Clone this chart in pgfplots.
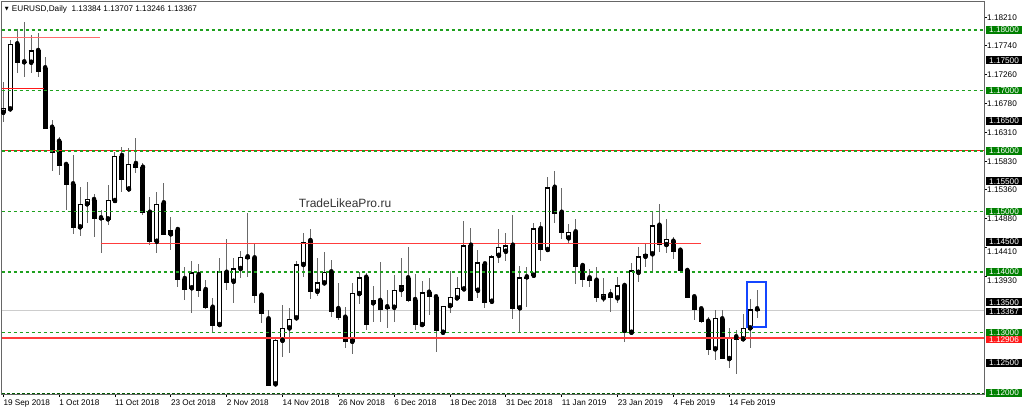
\documentclass[border=0pt]{standalone}
\usepackage{fontspec}
\setmainfont{Liberation Sans}
\newfontfamily\dejavu{DejaVu Sans}
\usepackage{pgfplots}
\usepackage{pgfplotstable}
\pgfplotsset{compat=1.18}
\definecolor{lvlgreen}{RGB}{0,128,0}
\definecolor{dashgreen}{RGB}{30,160,30}
\definecolor{darkdash}{RGB}{0,90,0}
\definecolor{lvlred}{RGB}{255,60,60}
\definecolor{boxred}{RGB}{255,25,25}
\definecolor{wickgray}{RGB}{105,105,105}
\definecolor{curgray}{RGB}{205,205,205}
\definecolor{selblue}{RGB}{20,70,255}
\newcommand{\tickfont}{\fontsize{8.2}{9}\selectfont}

% EURUSD daily candles, 19 Sep 2018 .. 20 Feb 2019 (index = bar number)
\pgfplotstableread{
i O H L C
0 1.16633 1.17140 1.16479 1.16706
1 1.16689 1.17835 1.16666 1.17764
2 1.17764 1.18012 1.17294 1.17460
3 1.17466 1.18137 1.17218 1.17455
4 1.17460 1.17917 1.17294 1.17653
5 1.17653 1.17955 1.17228 1.17311
6 1.17367 1.17559 1.16364 1.16375
7 1.16385 1.16512 1.15674 1.15979
8 1.16154 1.16226 1.15603 1.15757
9 1.15769 1.15780 1.15025 1.15450
10 1.15450 1.15934 1.14628 1.14739
11 1.14739 1.15410 1.14595 1.15119
12 1.15119 1.15483 1.14805 1.15202
13 1.15190 1.15289 1.14574 1.14888
14 1.14888 1.15025 1.14309 1.14876
15 1.14871 1.15438 1.14777 1.15190
16 1.15174 1.15988 1.15165 1.15917
17 1.15917 1.16071 1.15327 1.15521
18 1.15367 1.16045 1.15327 1.15785
19 1.15785 1.16210 1.15631 1.15719
20 1.15724 1.15797 1.14942 1.14980
21 1.14980 1.15245 1.14446 1.14501
22 1.14501 1.15327 1.14309 1.15119
23 1.15136 1.15476 1.14610 1.14623
24 1.14623 1.14914 1.14364 1.14683
25 1.14694 1.14739 1.13757 1.13884
26 1.13884 1.14088 1.13537 1.13719
27 1.13731 1.14187 1.13317 1.13988
28 1.13950 1.14132 1.13582 1.13702
29 1.13702 1.13868 1.13383 1.13410
30 1.13410 1.13565 1.12987 1.13112
31 1.13124 1.14226 1.13110 1.14005
32 1.13988 1.14540 1.13702 1.13830
33 1.13840 1.14226 1.13493 1.14050
34 1.14050 1.14347 1.13896 1.14243
35 1.14243 1.14980 1.13922 1.14231
36 1.14226 1.14458 1.13483 1.13608
37 1.13608 1.13658 1.13157 1.13317
38 1.13218 1.13372 1.12124 1.12132
39 1.12144 1.12921 1.12130 1.12876
40 1.12864 1.13455 1.12600 1.13069
41 1.13069 1.13400 1.12666 1.13223
42 1.13235 1.14182 1.13225 1.14116
43 1.14116 1.14640 1.13912 1.14484
44 1.14512 1.14706 1.13549 1.13674
45 1.13674 1.14226 1.13603 1.13823
46 1.13813 1.14326 1.13800 1.13995
47 1.13995 1.14198 1.13251 1.13355
48 1.13388 1.13823 1.13207 1.13251
49 1.13245 1.13417 1.12739 1.12848
50 1.12848 1.13813 1.12645 1.13648
51 1.13636 1.14005 1.13471 1.13906
52 1.13906 1.13988 1.13041 1.13140
53 1.13483 1.13774 1.13179 1.13521
54 1.13521 1.14170 1.13179 1.13388
55 1.13417 1.13702 1.13079 1.13400
56 1.13410 1.13950 1.13179 1.13702
57 1.13702 1.14226 1.13582 1.13769
58 1.13896 1.14408 1.13509 1.13537
59 1.13537 1.13967 1.13041 1.13140
60 1.13124 1.13851 1.13110 1.13658
61 1.13658 1.13906 1.13289 1.13592
62 1.13582 1.13590 1.12673 1.13025
63 1.12997 1.13438 1.12985 1.13438
64 1.13438 1.14017 1.13327 1.13582
65 1.13565 1.13912 1.13554 1.13731
66 1.13714 1.14848 1.13700 1.14435
67 1.14435 1.14722 1.13525 1.13537
68 1.13691 1.14364 1.13565 1.14154
69 1.14127 1.14135 1.13400 1.13499
70 1.13509 1.14281 1.13495 1.14253
71 1.14269 1.14706 1.14144 1.14408
72 1.14336 1.14640 1.14187 1.14435
73 1.14435 1.14942 1.13223 1.13400
74 1.13400 1.14099 1.13013 1.13906
75 1.13912 1.14078 1.13417 1.13900
76 1.13939 1.14805 1.13925 1.14711
77 1.14711 1.14831 1.14187 1.14375
78 1.14364 1.15565 1.14336 1.15393
79 1.15393 1.15674 1.14815 1.14970
80 1.14980 1.15393 1.14540 1.14650
81 1.14557 1.14793 1.14484 1.14656
82 1.14656 1.14871 1.13797 1.14099
83 1.14099 1.14144 1.13747 1.13884
84 1.13896 1.14045 1.13757 1.13856
85 1.13856 1.14078 1.13509 1.13582
86 1.13565 1.13896 1.13509 1.13631
87 1.13620 1.13714 1.13344 1.13575
88 1.13565 1.13922 1.13483 1.13774
89 1.13769 1.13780 1.12848 1.13003
90 1.12997 1.14154 1.12985 1.14022
91 1.13988 1.14408 1.13840 1.14253
92 1.14253 1.14474 1.14088 1.14293
93 1.14293 1.14997 1.14022 1.14765
94 1.14765 1.15119 1.14326 1.14458
95 1.14446 1.14876 1.14319 1.14540
96 1.14501 1.14583 1.14210 1.14347
97 1.14352 1.14375 1.13979 1.14022
98 1.14017 1.14033 1.13570 1.13582
99 1.13582 1.13590 1.13207 1.13372
100 1.13383 1.13390 1.13162 1.13179
101 1.13179 1.13261 1.12628 1.12722
102 1.12722 1.13372 1.12545 1.13235
103 1.13218 1.13372 1.12557 1.12574
104 1.12562 1.13069 1.12408 1.12921
105 1.12921 1.13041 1.12314 1.12888
106 1.12888 1.13306 1.12860 1.13069
107 1.13069 1.13554 1.12739 1.13372
108 1.13384 1.13707 1.13246 1.13367
}\ohlc

% price tags on the right scale
\pgfplotstableread{
x y lab
140.5 1.18000 1.18000
140.5 1.17000 1.17000
140.5 1.16000 1.16000
140.5 1.15000 1.15000
140.5 1.14000 1.14000
140.5 1.13000 1.13000
140.5 1.12000 1.12000
}\greentags
\pgfplotstableread{
x y lab
140.5 1.17500 1.17500
140.5 1.16500 1.16500
140.5 1.15500 1.15500
140.5 1.14500 1.14500
140.5 1.13500 1.13500
140.5 1.12500 1.12500
}\blacktags

\pgfplotsset{
  pricetag/.style={only marks, mark=none, nodes near coords, point meta=explicit symbolic,
    every node near coord/.append style={anchor=west, xshift=2pt, fill=#1, text=white,
      font=\tickfont, inner xsep=3pt, inner ysep=1pt, text height=5.8pt, text depth=0pt}},
  hline/.style={line width=1pt, mark=none},
  greenlvl/.style={line width=1.1pt, mark=none, color=dashgreen, dash pattern=on 3pt off 3pt}
}

\begin{document}
\begin{tikzpicture}
\begin{axis}[
  at={(1.5pt,19pt)}, anchor=south west,
  scale only axis, width=982.5pt, height=392pt,
  xmin=-0.258, xmax=140.5, ymin=1.119835, ymax=1.184628,
  clip=false, set layers,
  axis line style={draw=black!60, line width=1pt},
  tick align=outside, major tick length=3pt,
  tick style={black, line width=0.8pt},
  ytick pos=right, xtick pos=bottom,
  ytick={1.18210,1.17740,1.17260,1.16780,1.16310,1.15830,1.15360,1.14880},
  yticklabels={1.18210,1.17740,1.17260,1.16780,1.16310,1.15830,1.15360,1.14880},
  extra y ticks={1.14410,1.13930},
  extra y tick labels={1.14410,1.13930},
  extra y tick style={yticklabel style={yshift=-4pt}},
  xtick={0,8,...,104},
  xticklabels={19 Sep 2018,1 Oct 2018,11 Oct 2018,23 Oct 2018,2 Nov 2018,14 Nov 2018,26 Nov 2018,6 Dec 2018,18 Dec 2018,31 Dec 2018,11 Jan 2019,23 Jan 2019,4 Feb 2019,14 Feb 2019},
  ticklabel style={font=\tickfont, inner sep=0pt},
  yticklabel style={anchor=west},
  xticklabel style={anchor=north west, yshift=-2.5pt},
]
% current price line (behind the bars)
\addplot[hline, curgray] coordinates {(-0.258,1.13367) (140.5,1.13367)};

% wicks
\addplot[only marks, mark=none,
  error bars/.cd, y dir=both, y explicit, error mark=none,
  error bar style={draw=wickgray, line width=1pt}]
  table[x=i, y=O, y error plus expr=\thisrow{H}-\thisrow{O}, y error minus expr=\thisrow{O}-\thisrow{L}] {\ohlc};
% bodies (black frame / black fill)
\addplot[only marks, mark=none,
  error bars/.cd, y dir=both, y explicit, error mark=-,
  error mark options={rotate=90, draw=black, line width=1pt, mark size=2.5pt},
  error bar style={draw=black, line width=5pt}]
  table[x=i, y=O, y error plus expr={max(\thisrow{C}-\thisrow{O},0)}, y error minus expr={max(\thisrow{O}-\thisrow{C},0)}] {\ohlc};
% white inside of up candles
\addplot[only marks, mark=none,
  error bars/.cd, y dir=plus, y explicit, error mark=none,
  error bar style={draw=white, line width=3pt}]
  table[x=i, y expr=\thisrow{O}+0.00017, y error plus expr={max(\thisrow{C}-\thisrow{O}-0.00034,0)}] {\ohlc};

% level lines (on top of the bars)
\addplot[hline, color=boxred] coordinates {(-0.258,1.16000) (140.5,1.16000)};
\addplot[hline, color=lvlred, line width=1.5pt] coordinates {(-0.258,1.12906) (140.5,1.12906)};
\addplot[hline, color=lvlred, line width=1.6pt] coordinates {(13.95,1.14474) (56,1.14474) (99.9,1.14474)};
\addplot[hline, color=lvlred!75!white, line width=1.6pt] coordinates {(-0.258,1.17879) (6.8,1.17879) (13.85,1.17879)};
\addplot[hline, color=boxred] coordinates {(-0.258,1.17036) (5.83,1.17036)};
\addplot[greenlvl] coordinates {(-0.258,1.18) (140.5,1.18)};
\addplot[greenlvl] coordinates {(-0.258,1.17) (140.5,1.17)};
\addplot[greenlvl] coordinates {(-0.258,1.16) (140.5,1.16)};
\addplot[greenlvl] coordinates {(-0.258,1.15) (140.5,1.15)};
\addplot[greenlvl] coordinates {(-0.258,1.14) (140.5,1.14)};
\addplot[greenlvl] coordinates {(-0.258,1.13) (140.5,1.13)};
\addplot[hline, color=darkdash, dash pattern=on 3pt off 2pt] coordinates {(-0.258,1.12) (140.5,1.12)};

% selection box around the last bar
\addplot[color=selblue, line width=2pt, line cap=rect, mark=none] coordinates {(106.59,1.13830) (109.23,1.13830) (109.23,1.13096) (106.59,1.13096) (106.59,1.13830)};

% price tags
\addplot[pricetag=lvlgreen] table[x=x, y=y, meta=lab] {\greentags};
\addplot[pricetag=black] table[x=x, y=y, meta=lab] {\blacktags};
\addplot[pricetag=black, every node near coord/.append style={yshift=-1.3pt}] coordinates {(140.5,1.13367)[1.13367]};
\addplot[pricetag=boxred, every node near coord/.append style={yshift=-1.4pt}] coordinates {(140.5,1.12906)[1.12906]};

\node[font=\fontsize{12}{14}\selectfont, text=black!80] at (axis cs:48.96,1.1514) {TradeLikeaPro.ru};
\end{axis}
\node[inner sep=0pt, font=\dejavu\fontsize{5}{5}\selectfont] at (6.7pt,403.3pt) {▼};
\node[anchor=west, inner sep=0pt, font=\tickfont] at (11.7pt,403.3pt) {EURUSD,Daily\ \ 1.13384 1.13707 1.13246 1.13367};
\pgfresetboundingbox
\useasboundingbox (0,0) rectangle (1024pt,413pt);
\end{tikzpicture}
\end{document}
